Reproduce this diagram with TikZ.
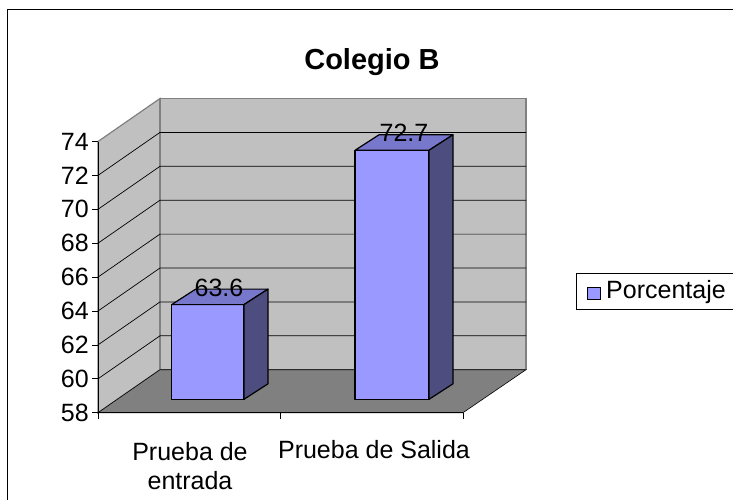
\documentclass[tikz,border=0pt]{standalone}
\usepackage{fontspec}
\setmainfont{Liberation Sans}
\usetikzlibrary{positioning}
\definecolor{wallgray}{HTML}{C0C0C0}
\definecolor{edgegray}{HTML}{808080}
\definecolor{floorgray}{HTML}{808080}
\definecolor{barfront}{HTML}{9999FF}
\definecolor{bartop}{HTML}{7777CC}
\definecolor{barside}{HTML}{4D4D80}
\newcommand{\depthx}{62}
\newcommand{\depthy}{-43}
\newcommand{\drawbar}[3]{% left, right, top
  \draw[barface, fill=barfront] (#1,399.3) rectangle (#2,#3);
  \draw[barface, fill=bartop] (#1,#3) -- ++(24,-15.5) -- ++(#2-#1,0) -- (#2,#3) -- cycle;
  \draw[barface, fill=barside] (#2,#3) -- ++(24,-15.5) -- (#2+24,383.8) -- (#2,399.3) -- cycle;
}
\tikzstyle{wall} = [fill=wallgray, draw=edgegray, line width=1.2pt]
\tikzstyle{floor} = [fill=floorgray, draw=black, line width=0.6pt]
\tikzstyle{gridline} = [black, line width=0.7pt]
\tikzstyle{axisline} = [black, line width=0.8pt]
\tikzstyle{barface} = [draw=black, line width=1.2pt, line join=round]
\tikzstyle{ticklabel} = [font=\fontsize{25}{28}\selectfont, anchor=east, inner sep=0pt]
\tikzstyle{valuelabel} = [font=\fontsize{25}{28}\selectfont, inner sep=0pt]
\tikzstyle{catlabel} = [font=\fontsize{25}{29}\selectfont, align=center, inner sep=0pt]
\tikzstyle{charttitle} = [font=\fontsize{29}{32}\selectfont\bfseries, inner sep=0pt]

\begin{document}
\begin{tikzpicture}[x=1pt,y=-1pt]
  \useasboundingbox (0,0) rectangle (733,500);
  \clip (0,0) rectangle (733,500);
  \fill[white] (0,0) rectangle (733,500);
  \draw[black, line width=1pt] (7,10) rectangle (760,520);
  \node[charttitle] (title) at (372,62) {Colegio B};
  % walls
  \draw[wall] (98,141.5) -- ++(\depthx,\depthy) -- (160,369.7) -- (98,412.7) -- cycle;
  \draw[wall] (160,98.5) rectangle (526,369.7);
  \foreach \v in {60,62,...,72} {
    \pgfmathsetmacro{\yf}{412.7-(\v-58)*16.95}
    \draw[gridline] (98,\yf) -- ++(\depthx,\depthy) -- ++(366,0);
  }
  \draw[floor] (98,412.7) -- ++(\depthx,\depthy) -- (526,369.7) -- (463,412.7) -- cycle;
  % axes
  \draw[axisline] (98,141.5) -- (98,412.7) -- (463,412.7);
  \foreach \v in {58,60,...,74} {
    \pgfmathsetmacro{\yf}{412.7-(\v-58)*16.95}
    \draw[axisline] (92,\yf) -- (98,\yf);
    \node[ticklabel] (tick\v) at (89,\yf) {\v};
  }
  \foreach \xt in {98,280.5,463}
    \draw[axisline] (\xt,412.7) -- (\xt,419);
  % bars
  \drawbar{171.7}{244}{304.6}
  \drawbar{355}{429}{150.3}
  \node[valuelabel] (val1) at (219,288) {63.6};
  \node[valuelabel] (val2) at (404,133) {72.7};
  \node[catlabel] (cat1) at (190,466) {Prueba de\\entrada};
  \node[catlabel, anchor=north] (cat2) at (374,440) {Prueba de Salida};
  % legend
  \draw[black, line width=0.8pt] (576,273) rectangle (760,309.3);
  \draw[black, fill=barfront, line width=0.8pt] (587,287) rectangle (600,299.5);
  \node[valuelabel, anchor=west] (legtext) at (606,292) {Porcentaje};
\end{tikzpicture}
\end{document}
